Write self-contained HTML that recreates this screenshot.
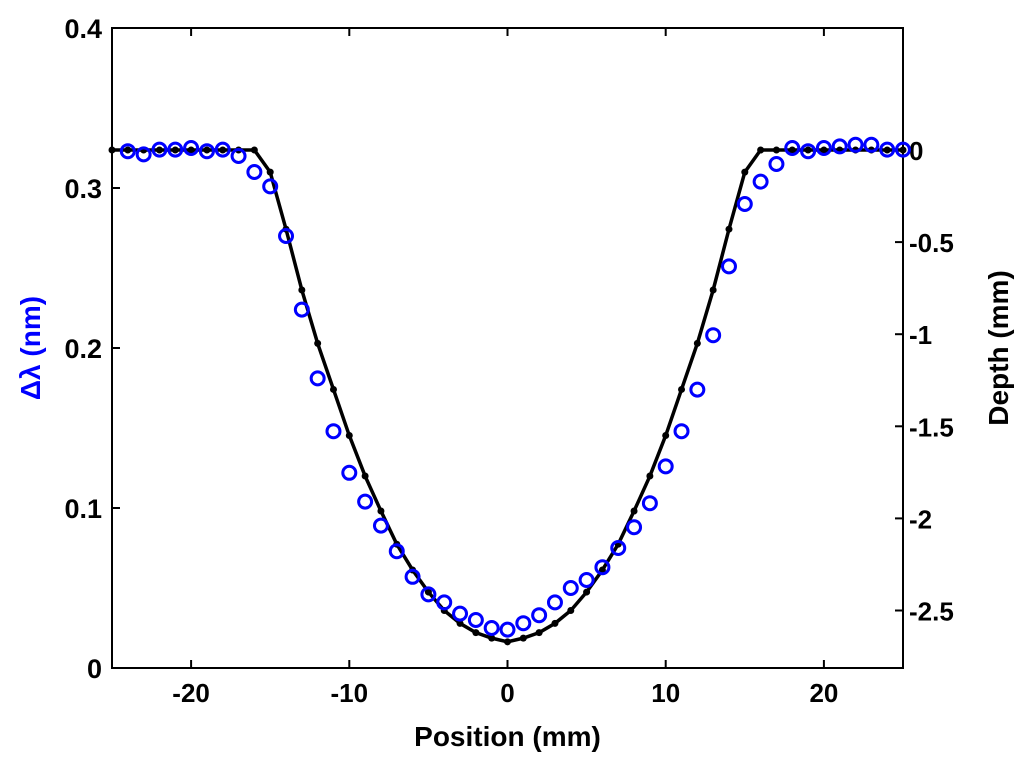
<!DOCTYPE html>
<html><head><meta charset="utf-8"><style>
body{margin:0;background:#fff;}
svg{display:block;font-family:"Liberation Sans",Arial,sans-serif;font-weight:bold;}
</style></head><body>
<svg id="chart" width="1024" height="767">
<rect width="1024" height="767" fill="#fff"/>
<g id="plot"></g>
</svg>
<script>
const positions=[-24,-23,-22,-21,-20,-19,-18,-17,-16,-15,-14,-13,-12,-11,-10,-9,-8,-7,-6,-5,-4,-3,-2,-1,0,1,2,3,4,5,6,7,8,9,10,11,12,13,14,15,16,17,18,19,20,21,22,23,24,25];
const deltaLambda=[0.323,0.321,0.324,0.324,0.325,0.323,0.324,0.320,0.310,0.301,0.270,0.224,0.181,0.148,0.122,0.104,0.089,0.073,0.057,0.046,0.041,0.034,0.030,0.025,0.024,0.028,0.033,0.041,0.050,0.055,0.063,0.075,0.088,0.103,0.126,0.148,0.174,0.208,0.251,0.290,0.304,0.315,0.325,0.323,0.325,0.326,0.327,0.327,0.324,0.324];
const depthPos=[-25,-24,-23,-22,-21,-20,-19,-18,-17,-16,-15,-14,-13,-12,-11,-10,-9,-8,-7,-6,-5,-4,-3,-2,-1,0,1,2,3,4,5,6,7,8,9,10,11,12,13,14,15,16,17,18,19,20,21,22,23,24,25];
const depth=[0,0,0,0,0,0,0,0,0,0,-0.12,-0.43,-0.76,-1.05,-1.30,-1.55,-1.77,-1.96,-2.14,-2.28,-2.40,-2.50,-2.57,-2.62,-2.65,-2.67,-2.65,-2.62,-2.57,-2.50,-2.40,-2.28,-2.14,-1.96,-1.77,-1.55,-1.30,-1.05,-0.76,-0.43,-0.12,0,0,0,0,0,0,0,0,0,0];
const xTicks=[-20,-10,0,10,20];
const yTicks=[0,0.1,0.2,0.3,0.4];
const yTickLabels=["0","0.1","0.2","0.3","0.4"];
const rTicks=[0,-0.5,-1,-1.5,-2,-2.5];
const rTickLabels=["0","-0.5","-1","-1.5","-2","-2.5"];

const L=112,R=903,T=28,B=668;
const xs=v=>L+(v+25)/50*(R-L);
const ys=v=>B-v/0.4*(B-T);
const rs=v=>150+(-v)*184.2;
const NS="http://www.w3.org/2000/svg";
const g=document.getElementById('plot');
function mk(tag,attrs,parent){const e=document.createElementNS(NS,tag);for(const k in attrs)e.setAttribute(k,attrs[k]);(parent||g).appendChild(e);return e;}

const frame=mk('rect',{x:L,y:T,width:R-L,height:B-T,fill:'none',stroke:'#000','stroke-width':2});



xTicks.forEach(t=>{
  const x=xs(t);
  const tk=mk('line',{x1:x,x2:x,y1:B,y2:B-8,stroke:'#000','stroke-width':2});
  
  
  const tk2=mk('line',{x1:x,x2:x,y1:T,y2:T+8,stroke:'#000','stroke-width':2});
  
  
  const lb=mk('text',{x:x,y:B+34,'text-anchor':'middle','font-size':26,fill:'#000'});
  lb.textContent=String(t);
  
  
});
yTicks.forEach((t,i)=>{
  const y=ys(t);
  const tk=mk('line',{x1:L,x2:L+8,y1:y,y2:y,stroke:'#000','stroke-width':2});
  
  
  const lb=mk('text',{x:L-10,y:y+10,'text-anchor':'end','font-size':27,fill:'#000'});
  lb.textContent=yTickLabels[i];
  
  
});
rTicks.forEach((t,i)=>{
  const y=rs(t);
  const tk=mk('line',{x1:R-8,x2:R,y1:y,y2:y,stroke:'#000','stroke-width':2});
  
  
  const lb=mk('text',{x:R+6,y:y+10,'text-anchor':'start','font-size':26,fill:'#000'});
  lb.textContent=rTickLabels[i];
  
  
});

const pts=depthPos.map((p,i)=>xs(p)+','+rs(depth[i])).join(' ');
const line=mk('polyline',{points:pts,fill:'none',stroke:'#000','stroke-width':3.5});


depthPos.forEach((p,i)=>{
  const m=mk('circle',{cx:xs(p),cy:rs(depth[i]),r:3.5,fill:'#000'});
  
  
});
positions.forEach((p,i)=>{
  const c=mk('circle',{cx:xs(p),cy:ys(deltaLambda[i]),r:6.5,fill:'none',stroke:'#0000ff','stroke-width':3});
  
  
});

const xt=mk('text',{x:(L+R)/2,y:746,'text-anchor':'middle','font-size':28,fill:'#000'});
xt.textContent='Position (mm)';


const yt=mk('text',{x:0,y:0,'text-anchor':'middle','font-size':28,fill:'#0000ff',transform:'translate(40,348) rotate(-90)'});
yt.textContent='Δλ (nm)';


const rt=mk('text',{x:0,y:0,'text-anchor':'middle','font-size':28,fill:'#000',transform:'translate(1008,348) rotate(-90)'});
rt.textContent='Depth (mm)';


</script>
</body></html>
